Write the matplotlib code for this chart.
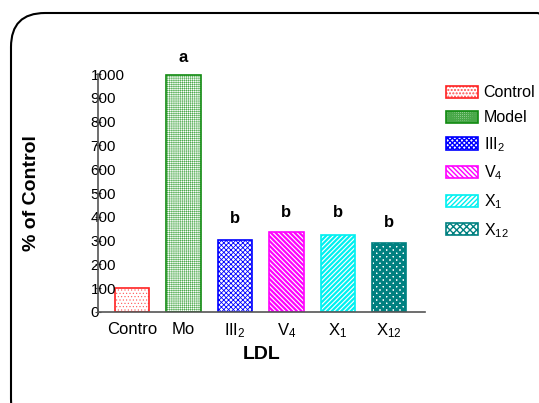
import matplotlib.pyplot as plt
import matplotlib.patches as mpatches
import numpy as np

plt.rcParams['font.family'] = ['Liberation Sans', 'DejaVu Sans']
plt.rcParams['mathtext.fontset'] = 'custom'
plt.rcParams['mathtext.rm'] = 'Liberation Sans'

groups = ['Control', 'Model', r'$\mathregular{III_2}$', r'$\mathregular{V_4}$',
          r'$\mathregular{X_1}$', r'$\mathregular{X_{12}}$']
tick_labels = ['Contro', 'Mo', r'$\mathregular{III_2}$', r'$\mathregular{V_4}$',
               r'$\mathregular{X_1}$', r'$\mathregular{X_{12}}$']
values = [100, 995, 302, 336, 323, 290]
letters = ['', 'a', 'b', 'b', 'b', 'b']
letter_y = [0, 1072, 395, 418, 418, 378]
yticks = [0, 100, 200, 300, 400, 500, 600, 700, 800, 900, 1000]

edge_colors = ['#ff2020', '#108a10', '#0000ff', '#ff00ff', '#00f0f0', '#008080']
hatch_colors = ['#ff5050', '#48a848', '#0000ff', '#ff00ff', '#00f0f0', '#008080']
hatches = ['.' * 5, '+' * 8, 'x' * 7, '\\' * 7, '/' * 7, 'x' * 5]
hatch_lw = [0.4, 0.35, 0.6, 1.6, 1.6, 2.2]

fig = plt.figure(figsize=(5.39, 4.03), dpi=100)
ax = fig.add_axes([0.182, 0.226, 0.607, 0.590])

x = np.arange(len(values))
handles = []
for i in range(len(values)):
    # hatch line width is picked up when the patch is made
    with plt.rc_context({'hatch.linewidth': hatch_lw[i]}):
        fill = ax.bar(x[i], values[i], width=0.67, facecolor='white',
                      edgecolor=hatch_colors[i], hatch=hatches[i], linewidth=0)
    outline = ax.bar(x[i], values[i], width=0.67, facecolor='none',
                     edgecolor=edge_colors[i], linewidth=1.2)
    handles.append((fill[0], outline[0]))
    if letters[i]:
        ax.text(x[i], letter_y[i], letters[i], ha='center', va='center',
                fontsize=12, fontweight='bold')

ax.set_xlim(-0.66, 5.7)
ax.set_ylim(0, 1000)
ax.set_yticks(yticks)
ax.set_xticks(x)
ax.set_xticklabels(tick_labels, fontsize=12)
for sp in ['top', 'right']:
    ax.spines[sp].set_visible(False)
for sp in ['left', 'bottom']:
    ax.spines[sp].set_color('#555555')
    ax.spines[sp].set_linewidth(1.2)

ax.tick_params(axis='y', direction='inout', length=5, color='#555555',
               pad=3, labelsize=11)
for lbl in ax.get_yticklabels():
    lbl.set_horizontalalignment('left')
ax.tick_params(axis='x', length=0, pad=7)

ax.set_ylabel('% of Control', fontsize=14, fontweight='bold', labelpad=36)
ax.set_xlabel('LDL', fontsize=14, fontweight='bold', labelpad=4)

leg = ax.legend(handles, groups, loc='upper left', bbox_to_anchor=(1.043, 0.98),
                frameon=False, fontsize=11.5, handlelength=2.0, handleheight=0.8,
                labelspacing=0.62, handletextpad=0.38, borderaxespad=0)

frame = mpatches.FancyBboxPatch((11, -30), 560, 390 + 30,
                                boxstyle='round,pad=0,rounding_size=34',
                                transform=None, facecolor='none',
                                edgecolor='black', linewidth=1.5)
fig.patches.append(frame)

fig.savefig('out.png', dpi=100)
